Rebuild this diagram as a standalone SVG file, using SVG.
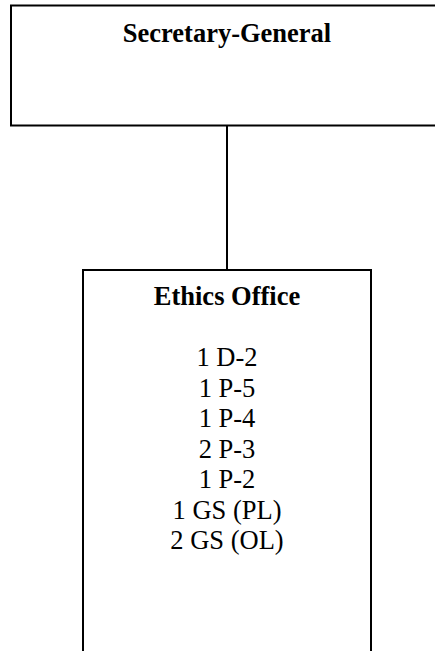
<svg xmlns="http://www.w3.org/2000/svg" width="435" height="651" viewBox="0 0 435 651">
<style>
.box{fill:#fff;stroke:#000;stroke-width:2}
.conn{stroke:#000;stroke-width:2;fill:none}
text{font-family:"Liberation Serif","Times New Roman",serif;font-size:26.5px;fill:#000;text-anchor:middle}
.b{font-weight:bold}
</style>
<rect x="0" y="0" width="435" height="651" fill="#fff"/>
<g id="connectors">
<line class="conn" x1="227" y1="125.5" x2="227" y2="270"/>
</g>
<g id="secretary-general">
<rect class="box" x="11" y="5.5" width="450" height="120"/>
<text class="b" x="227" y="42">Secretary-General</text>
</g>
<g id="ethics-office">
<rect class="box" x="83" y="270" width="288" height="420"/>
<text class="b" x="227" y="305">Ethics Office</text>
<text x="227" y="366">1 D-2</text>
<text x="227" y="396.5">1 P-5</text>
<text x="227" y="427">1 P-4</text>
<text x="227" y="457.5">2 P-3</text>
<text x="227" y="488">1 P-2</text>
<text x="227" y="518.5">1 GS (PL)</text>
<text x="227" y="549">2 GS (OL)</text>
</g>
</svg>
